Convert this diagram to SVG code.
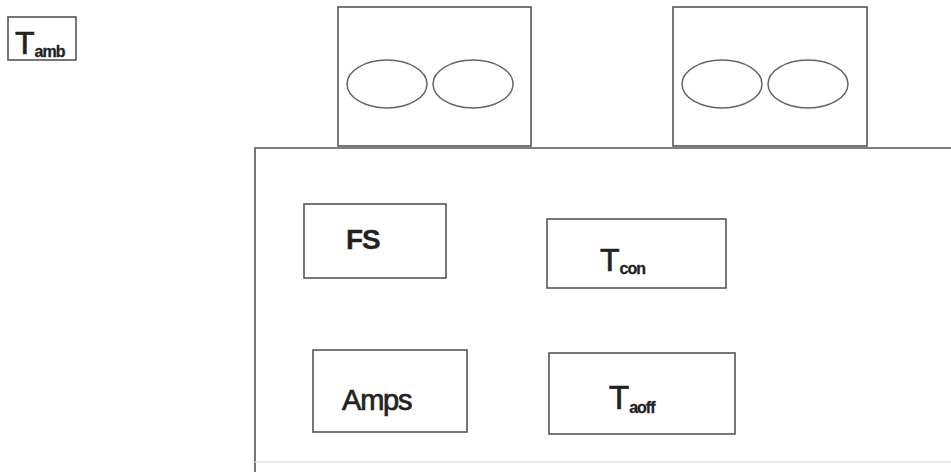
<svg xmlns="http://www.w3.org/2000/svg" width="951" height="472" viewBox="0 0 951 472">
<style>
.box{fill:none;stroke:#555;stroke-width:1.6}
.ell{fill:none;stroke:#666;stroke-width:1.5}
.t{font-family:"Liberation Sans",Arial,sans-serif;fill:#222;stroke:#222;stroke-width:0.7}
.big{font-size:32px}
.sub{font-size:16px;font-weight:bold;letter-spacing:-1px;stroke-width:0.3}
.lbl{font-size:29px;letter-spacing:-1.2px}
</style>
<rect width="951" height="472" fill="#fff"/>
<g id="tamb">
<rect class="box" x="8" y="17" width="68" height="43"/>
<text class="t" x="15" y="54"><tspan class="big">T</tspan><tspan class="sub" dy="3">amb</tspan></text>
</g>
<g id="housing">
<path class="box" d="M951,148 H255 V472"/>
<line x1="255" y1="462" x2="951" y2="462" stroke="#e2e2e2" stroke-width="1.5"/>
</g>
<g id="unit1">
<rect class="box" x="338" y="7" width="193" height="139"/>
<ellipse class="ell" cx="387" cy="84" rx="40" ry="24"/>
<ellipse class="ell" cx="473" cy="84" rx="40" ry="24"/>
</g>
<g id="unit2">
<rect class="box" x="673" y="7" width="194" height="139"/>
<ellipse class="ell" cx="722" cy="84" rx="40" ry="24"/>
<ellipse class="ell" cx="808" cy="84" rx="40" ry="24"/>
</g>
<g id="fs">
<rect class="box" x="304" y="204" width="142" height="74"/>
<text class="t lbl" x="346" y="249" font-weight="bold" style="font-size:28px;stroke-width:0.3">FS</text>
</g>
<g id="tcon">
<rect class="box" x="547" y="219" width="179" height="69"/>
<text class="t" x="600" y="271"><tspan class="big">T</tspan><tspan class="sub" dy="3">con</tspan></text>
</g>
<g id="amps">
<rect class="box" x="313" y="350" width="154" height="82"/>
<text class="t lbl" x="342" y="410">Amps</text>
</g>
<g id="taoff">
<rect class="box" x="549" y="353" width="186" height="81"/>
<text class="t" x="609" y="409"><tspan class="big" style="font-size:33px">T</tspan><tspan class="sub" dy="4">aoff</tspan></text>
</g>
</svg>
